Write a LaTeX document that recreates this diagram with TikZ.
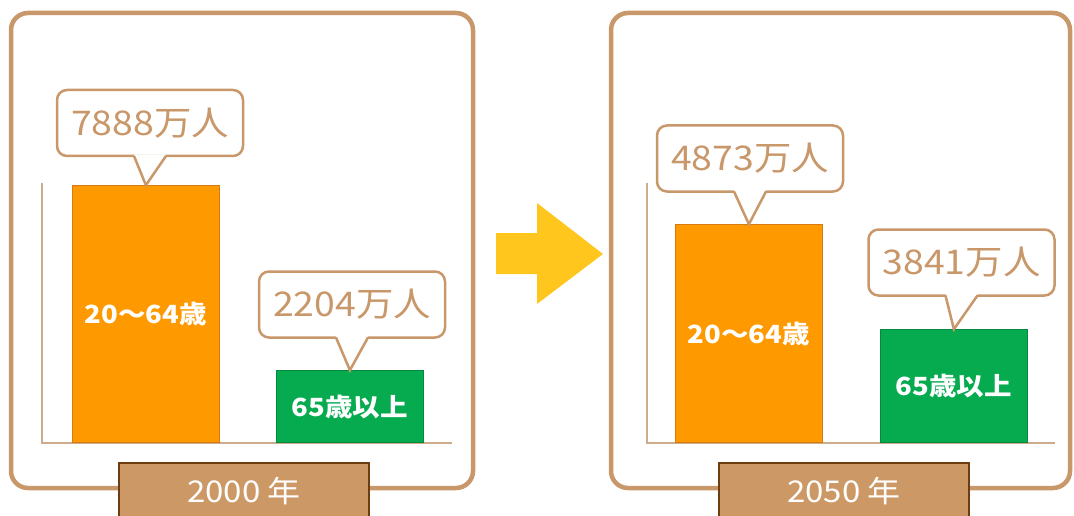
\documentclass[tikz,border=0pt]{standalone}
\usepackage{fontspec}
\setmainfont{Noto Sans CJK JP}
\newfontfamily\widefont[FakeStretch=1.1]{Noto Sans CJK JP}
\usepackage{xcolor}
\usepackage{tikz}
\usetikzlibrary{positioning}
\definecolor{frameb}{RGB}{200,151,106}
\definecolor{axisb}{RGB}{205,172,140}
\definecolor{barorange}{RGB}{255,153,0}
\definecolor{baredge}{RGB}{214,122,20}
\definecolor{bargreen}{RGB}{6,171,79}
\definecolor{yearfill}{RGB}{204,153,102}
\definecolor{yearedge}{RGB}{110,60,15}
\definecolor{arrowy}{RGB}{255,198,30}
\tikzset{
    panel/.style = {draw=frameb, line width=4.5pt, rounded corners=17pt},
    axisl/.style = {draw=axisb, line width=1.5pt},
    obar/.style = {rectangle, draw=baredge, line width=0.8pt, fill=barorange, text=white, font=\widefont\bfseries\fontsize{25}{25}\selectfont, minimum width=147, anchor=south west, inner sep=0pt},
    gbar/.style = {rectangle, draw=bargreen!80!black, line width=0.8pt, fill=bargreen, text=white, font=\widefont\bfseries\fontsize{25}{25}\selectfont, minimum width=147, anchor=south west, inner sep=0pt},
    bubble/.style = {rectangle, rounded corners=10pt, draw=frameb, line width=2.5pt, fill=white, text=frameb, font=\widefont\fontsize{34}{34}\selectfont, minimum width=186, minimum height=66, outer sep=0pt},
    yearbox/.style = {rectangle, draw=yearedge, line width=2pt, fill=yearfill, text=white, font=\widefont\fontsize{30}{30}\selectfont, minimum width=250, minimum height=56, anchor=north},
}
\begin{document}
\begin{tikzpicture}[x=1pt, y=-1pt]
\tikzset{
    pointer/.style = {draw=frameb, line width=2.5pt},
}
\useasboundingbox (0,0) rectangle (1074,516);
%
\draw[panel] (11,13) rectangle (473,488);
\draw[panel] (611,13) rectangle (1070,488);
%
\draw[axisl] (42,183) -- (42,443) -- (452,443);
\draw[axisl] (647,183) -- (647,443) -- (1055,443);
%
\node[obar, minimum height=257] at (72,443) (o1) {20～64歳};
\node[gbar, minimum height=72] at (276,443) (g1) {65歳以上};
\node[obar, minimum height=218] at (675,443) (o2) {20～64歳};
\node[gbar, minimum height=113] at (880,443) (g2) {65歳以上};
%
\node[bubble] at (150,123) (v1) {7888万人};
\node[bubble] at (352,304.5) (v2) {2204万人};
\node[bubble] at (750,158.5) (v3) {4873万人};
\node[bubble] at (961.5,262.5) (v4) {3841万人};
%
\fill[white] ([xshift=-16,yshift=1.5]v1.south) -- (o1.north) -- ([xshift=16,yshift=1.5]v1.south) -- cycle;
\draw[pointer] ([xshift=-16]v1.south) -- (o1.north) -- ([xshift=16]v1.south);
\fill[white] ([xshift=-16,yshift=1.5]v2.south) -- (g1.north) -- ([xshift=16,yshift=1.5]v2.south) -- cycle;
\draw[pointer] ([xshift=-16]v2.south) -- (g1.north) -- ([xshift=16]v2.south);
\fill[white] ([xshift=-16,yshift=1.5]v3.south) -- (o2.north) -- ([xshift=16,yshift=1.5]v3.south) -- cycle;
\draw[pointer] ([xshift=-16]v3.south) -- (o2.north) -- ([xshift=16]v3.south);
\fill[white] ([xshift=-16,yshift=1.5]v4.south) -- (g2.north) -- ([xshift=16,yshift=1.5]v4.south) -- cycle;
\draw[pointer] ([xshift=-16]v4.south) -- (g2.north) -- ([xshift=16]v4.south);
%
\fill[arrowy] (496,233) -- (537,233) -- (537,203) -- (603,254) -- (537,304) -- (537,274) -- (496,274) -- cycle;
%
\node[yearbox] at (244,462) (y1) {2000 年};
\node[yearbox] at (844,462) (y2) {2050 年};
\end{tikzpicture}
\end{document}
